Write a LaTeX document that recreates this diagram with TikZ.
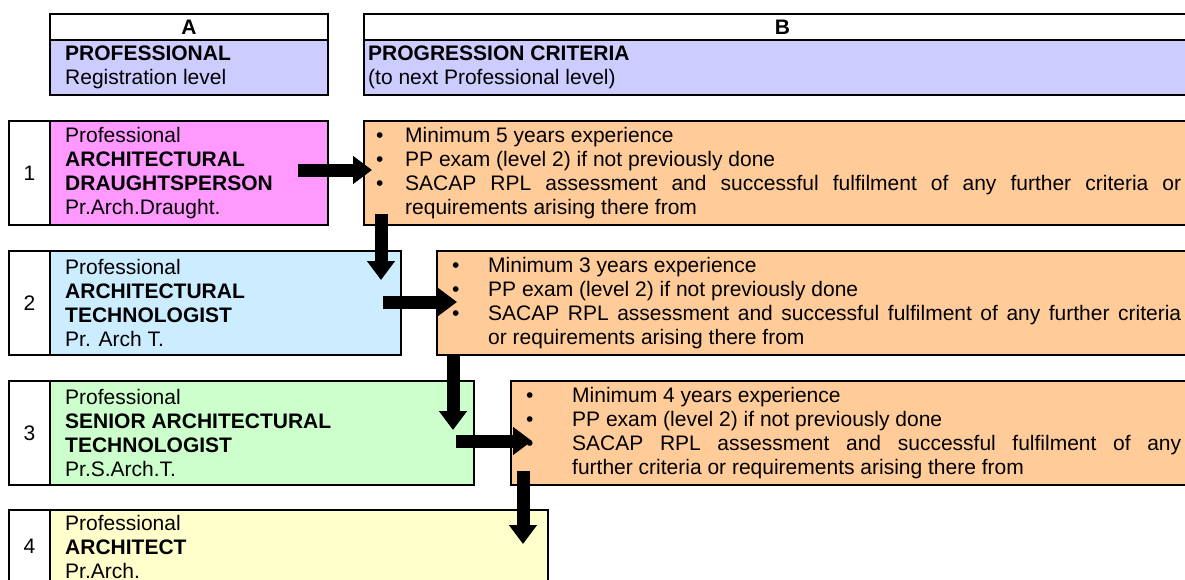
\documentclass[tikz,border=0pt]{standalone}
\usepackage{fontspec}
\setmainfont{Liberation Sans}
\usetikzlibrary{arrows.meta}
\definecolor{hdrc}{RGB}{204,204,255}
\definecolor{pinkc}{RGB}{255,153,255}
\definecolor{bluec}{RGB}{204,236,255}
\definecolor{greenc}{RGB}{204,255,204}
\definecolor{yellowc}{RGB}{255,255,204}
\definecolor{orangec}{RGB}{255,204,153}
\begin{document}
\begin{tikzpicture}[x=1pt,y=-1pt,
  box/.style={draw=black, line width=2pt, inner sep=0pt, anchor=north west, font=\fontsize{21}{24}\selectfont},
  txt/.style={inner sep=0pt, align=left, anchor=west, font=\fontsize{21}{24}\selectfont},
  bigarrow/.style={line width=13pt, -{Triangle[width=27pt,length=19pt]}}]
\clip (0,0) rectangle (1185,579);
\fill[white] (0,0) rectangle (1185,579);
% headers
\node[box, fill=white, minimum width=278pt, minimum height=26pt, font=\fontsize{21}{24}\selectfont\bfseries] (hAt) at (49,13) {A};
\node[box, fill=hdrc, minimum width=278pt, minimum height=55pt] (hAb) at (49,39) {};
\node[txt] (hAbt) at ([xshift=16pt]hAb.west) {\textbf{PROFESSIONAL}\\Registration level};
\node[box, fill=white, minimum width=837pt, minimum height=26pt, font=\fontsize{21}{24}\selectfont\bfseries] (hBt) at (363,13) {B};
\node[box, fill=hdrc, minimum width=837pt, minimum height=55pt] (hBb) at (363,39) {};
\node[txt] (hBbt) at ([xshift=5pt]hBb.west) {\textbf{PROGRESSION CRITERIA}\\(to next Professional level)};
% row 1
\node[box, fill=white, minimum width=41pt, minimum height=104pt] (n1) at (8,120) {1};
\node[box, fill=pinkc, minimum width=278pt, minimum height=104pt] (p1) at (49,120) {};
\node[txt] (p1t) at ([xshift=16pt]p1.west) {Professional\\\textbf{ARCHITECTURAL}\\\textbf{DRAUGHTSPERSON}\\Pr.Arch.Draught.};
\node[box, fill=orangec, minimum width=837pt, minimum height=104pt] (o1) at (363,120) {};
\node[txt] (o1t) at ([xshift=13pt]o1.west) {\makebox[29pt][l]{•}Minimum 5 years experience\\
\makebox[29pt][l]{•}PP exam (level 2) if not previously done\\
\makebox[29pt][l]{•}\makebox[776pt][s]{SACAP RPL assessment and successful fulfilment of any further criteria or}\\
\hspace*{29pt}requirements arising there from};
% row 2
\node[box, fill=white, minimum width=41pt, minimum height=104pt] (n2) at (8,250) {2};
\node[box, fill=bluec, minimum width=351pt, minimum height=104pt] (p2) at (49,250) {};
\node[txt] (p2t) at ([xshift=16pt]p2.west) {Professional\\\textbf{ARCHITECTURAL}\\\textbf{TECHNOLOGIST}\\Pr. Arch T.};
\node[box, fill=orangec, minimum width=764pt, minimum height=104pt] (o2) at (436,250) {};
\node[txt] (o2t) at ([xshift=16pt]o2.west) {\makebox[36pt][l]{•}Minimum 3 years experience\\
\makebox[36pt][l]{•}PP exam (level 2) if not previously done\\
\makebox[36pt][l]{•}\makebox[693pt][s]{SACAP RPL assessment and successful fulfilment of any further criteria}\\
\hspace*{36pt}or requirements arising there from};
% row 3
\node[box, fill=white, minimum width=41pt, minimum height=104pt] (n3) at (8,380) {3};
\node[box, fill=greenc, minimum width=424pt, minimum height=104pt] (p3) at (49,380) {};
\node[txt] (p3t) at ([xshift=16pt]p3.west) {Professional\\\textbf{SENIOR ARCHITECTURAL}\\\textbf{TECHNOLOGIST}\\Pr.S.Arch.T.};
\node[box, fill=orangec, minimum width=690pt, minimum height=104pt] (o3) at (510,380) {};
\node[txt] (o3t) at ([xshift=16pt]o3.west) {\makebox[46pt][l]{•}Minimum 4 years experience\\
\makebox[46pt][l]{•}PP exam (level 2) if not previously done\\
\makebox[46pt][l]{•}\makebox[609pt][s]{SACAP RPL assessment and successful fulfilment of any}\\
\hspace*{46pt}further criteria or requirements arising there from};
% row 4
\node[box, fill=white, minimum width=41pt, minimum height=73pt] (n4) at (8,509) {4};
\node[box, fill=yellowc, minimum width=498pt, minimum height=73pt] (p4) at (49,509) {};
\node[txt] (p4t) at ([xshift=16pt]p4.west) {Professional\\\textbf{ARCHITECT}\\Pr.Arch.};
% arrows
\coordinate (a1s) at (298,170);
\coordinate (a1e) at (372,170);
\coordinate (v1s) at (381,214);
\coordinate (v1e) at (381,280);
\coordinate (a2s) at (383,302);
\coordinate (a2e) at (457,302);
\coordinate (v2s) at (453,354);
\coordinate (v2e) at (453,430);
\coordinate (a3s) at (456,441);
\coordinate (a3e) at (532,441);
\coordinate (v3s) at (523,471);
\coordinate (v3e) at (523,544);
\draw[bigarrow] (a1s) -- (a1e);
\draw[bigarrow] (v1s) -- (v1e);
\draw[bigarrow] (a2s) -- (a2e);
\draw[bigarrow] (v2s) -- (v2e);
\draw[bigarrow] (a3s) -- (a3e);
\draw[bigarrow] (v3s) -- (v3e);
\end{tikzpicture}
\end{document}
